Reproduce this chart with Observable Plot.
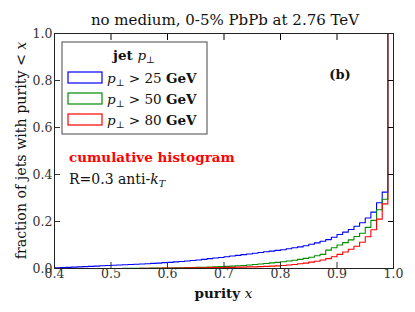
<!DOCTYPE html>
<html><head><meta charset="utf-8">
<script src="https://cdn.jsdelivr.net/npm/d3@7"></script>
<script src="https://cdn.jsdelivr.net/npm/@observablehq/plot@0.6"></script>
<style>body{margin:0;background:#fff} svg{display:block}</style>
</head><body><div id="chart"></div>
<script>
// bin left edges (width 0.01)
const binEdges = [
0.40,0.41,0.42,0.43,0.44,0.45,0.46,0.47,0.48,0.49,
0.50,0.51,0.52,0.53,0.54,0.55,0.56,0.57,0.58,0.59,
0.60,0.61,0.62,0.63,0.64,0.65,0.66,0.67,0.68,0.69,
0.70,0.71,0.72,0.73,0.74,0.75,0.76,0.77,0.78,0.79,
0.80,0.81,0.82,0.83,0.84,0.85,0.86,0.87,0.88,0.89,
0.90,0.91,0.92,0.93,0.94,0.95,0.96,0.97,0.98,0.99];
const lastEdge = 1.00;

const pt25 = [
0.003,0.004,0.005,0.006,0.007,0.008,0.009,0.010,0.012,0.013,
0.014,0.015,0.016,0.017,0.018,0.019,0.020,0.022,0.023,0.025,
0.026,0.028,0.030,0.032,0.034,0.036,0.039,0.042,0.045,0.047,
0.050,0.053,0.056,0.059,0.062,0.065,0.068,0.071,0.074,0.077,
0.080,0.084,0.088,0.092,0.097,0.103,0.109,0.116,0.123,0.133,
0.145,0.155,0.166,0.180,0.195,0.215,0.240,0.280,0.325,1.000];
const pt50 = [
0.000,0.000,0.000,0.000,0.000,0.000,0.000,0.000,0.000,0.000,
0.000,0.000,0.001,0.001,0.001,0.001,0.001,0.002,0.002,0.002,
0.002,0.003,0.003,0.004,0.004,0.005,0.005,0.006,0.007,0.008,
0.009,0.010,0.012,0.013,0.015,0.017,0.019,0.021,0.024,0.026,
0.029,0.032,0.035,0.039,0.043,0.048,0.054,0.060,0.078,0.088,
0.100,0.110,0.122,0.136,0.150,0.175,0.205,0.250,0.295,1.000];
const pt80 = [
0.000,0.000,0.000,0.000,0.000,0.000,0.000,0.000,0.000,0.000,
0.000,0.000,0.000,0.000,0.000,0.001,0.001,0.001,0.001,0.002,
0.002,0.002,0.002,0.003,0.003,0.003,0.003,0.004,0.004,0.004,
0.005,0.005,0.006,0.006,0.007,0.007,0.008,0.009,0.010,0.011,
0.013,0.015,0.017,0.020,0.023,0.027,0.031,0.036,0.042,0.050,
0.060,0.070,0.082,0.095,0.112,0.135,0.165,0.210,0.275,1.000];

const seriesNames = ["25", "50", "80"];
const seriesColors = ["#0000ff", "#008c00", "#ff0000"];
const seriesValues = [pt25, pt50, pt80];

const xTicks = [0.4,0.5,0.6,0.7,0.8,0.9,1.0];
const yTicks = [0.0,0.2,0.4,0.6,0.8,1.0];

function stepData(vals) {
  const d = binEdges.map((e,i) => ({x:e, y:vals[i]}));
  d.push({x:lastEdge, y:vals[vals.length-1]});
  return d;
}

const font = "DejaVu Serif";
const fmt = d3.format(".1f");

const plot = Plot.plot({
  width: 415, height: 312,
  marginLeft: 54, marginRight: 22, marginTop: 33, marginBottom: 44,
  style: {fontFamily: font, fontSize: "12px", background: "#fff"},
  x: {domain: [0.4, 1.0]},
  y: {domain: [0, 1]},
  marks: [
    ...seriesValues.map((v,i) => Plot.line(stepData(v), {x:"x", y:"y", curve:"step-after", stroke: seriesColors[i], strokeWidth: 1.1})),
    Plot.axisX({anchor:"bottom", ticks:xTicks, tickSize:-6, tickPadding:7, tickFormat:fmt, label:null, color:"#333", fontSize:12.5}),
    Plot.axisX({anchor:"top", ticks:xTicks, tickSize:-6, tickFormat:()=>"", label:null}),
    Plot.axisY({anchor:"left", ticks:yTicks, tickSize:-6, tickPadding:8, tickFormat:fmt, label:null, color:"#333", fontSize:12.5}),
    Plot.axisY({anchor:"right", ticks:yTicks, tickSize:-6, tickFormat:()=>"", label:null}),
    Plot.frame({stroke:"#222"})
  ]
});
document.getElementById("chart").appendChild(plot);

const svg = d3.select(plot);
const sx = plot.scale("x"), sy = plot.scale("y");

function addText(x, y, parts, opts={}) {
  const t = svg.append("text").attr("x", x).attr("y", y)
    .attr("font-family", font).attr("font-size", opts.size || 13)
    .attr("fill", opts.fill || "#111")
    .attr("text-anchor", opts.anchor || "start");
  if (opts.transform) t.attr("transform", opts.transform);
  for (const p of parts) {
    const s = t.append("tspan").text(p.t);
    if (p.b) s.attr("font-weight", "bold");
    if (p.i) s.attr("font-style", "italic");
    if (p.sub) s.attr("font-size", (opts.size||13)*0.7).attr("dy", 3);
    if (p.up) s.attr("dy", -3);
  }
  return t;
}

// title
addText(225, 25, [{t:"no medium, 0-5% PbPb at 2.76 TeV"}], {anchor:"middle", size:15});
// axis labels
addText((sx.apply(0.4)+sx.apply(1.0))/2, 298, [{t:"purity ", b:true}, {t:"x", i:true}], {anchor:"middle", size:13.5});
addText(0, 0, [{t:"fraction of jets with purity < "}, {t:"x", i:true}], {anchor:"middle", size:14.2, transform:`translate(26,${(sy.apply(0)+sy.apply(1))/2}) rotate(-90)`});

// legend
svg.append("rect").attr("x", 62).attr("y", 42).attr("width", 145).attr("height", 92)
  .attr("fill", "#fff").attr("stroke", "#666").attr("stroke-width", 1.2);
addText(134, 60, [{t:"jet ", b:true}, {t:"p", i:true}, {t:"⊥", sub:true}], {anchor:"middle", size:13.5});
const rowY = [83, 104, 125];
seriesNames.forEach((n,i) => {
  svg.append("rect").attr("x", 68).attr("y", rowY[i]-11).attr("width", 34).attr("height", 11)
    .attr("fill", "none").attr("stroke", seriesColors[i]).attr("stroke-width", 1.2);
  addText(107, rowY[i], [{t:"p", i:true}, {t:"⊥", sub:true}, {t:" > "+n+" ", up:true}, {t:"GeV", b:true}], {size:13.5});
});

// annotations
addText(340, 79, [{t:"(b)", b:true}], {anchor:"middle", size:13});
addText(69, 162, [{t:"cumulative histogram", b:true}], {fill:"#ff0000", size:13.5});
addText(69, 184, [{t:"R=0.3 anti-"}, {t:"k", i:true}, {t:"T", i:true, sub:true}], {size:14});
</script>
</body></html>
